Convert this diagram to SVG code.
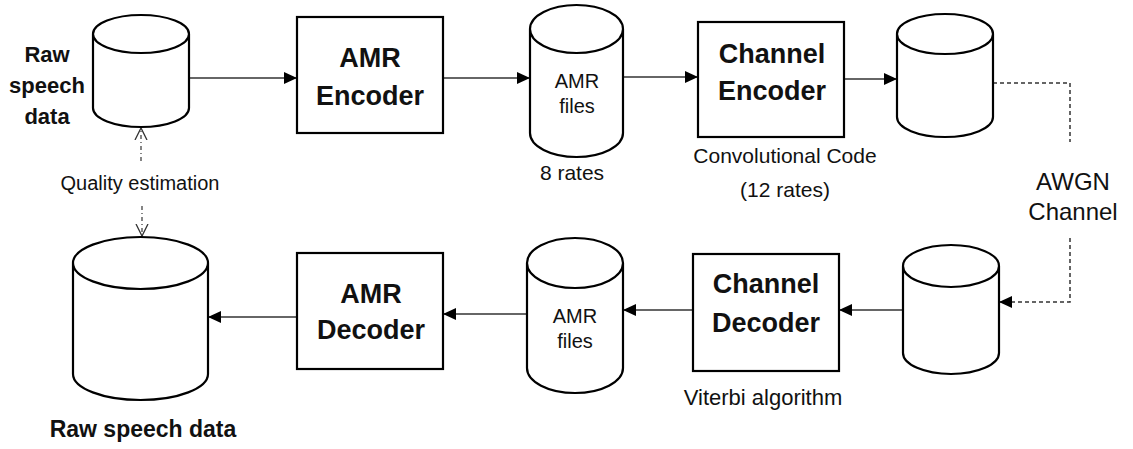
<svg xmlns="http://www.w3.org/2000/svg" width="1133" height="449" viewBox="0 0 1133 449">
<style>
.node{fill:#fff;stroke:#000;stroke-width:2.2}
.conn{fill:none;stroke:#333;stroke-width:1.5}
.dash{fill:none;stroke:#333;stroke-width:1.5;stroke-dasharray:4 3}
.dashdot{fill:none;stroke:#444;stroke-width:1.3;stroke-dasharray:4 3 1 3}
text{font-family:"Liberation Sans",Arial,sans-serif;fill:#111;text-anchor:middle}
.b{font-weight:bold}
</style>
<defs>
<marker id="arr" markerUnits="userSpaceOnUse" markerWidth="14" markerHeight="12" refX="13" refY="6" orient="auto">
<path d="M0,0 L13,6 L0,12 Z" fill="#000"/>
</marker>
<marker id="open" markerUnits="userSpaceOnUse" markerWidth="14" markerHeight="14" refX="12" refY="7" orient="auto">
<path d="M0,1 L12,7 L0,13" fill="none" stroke="#333" stroke-width="1.3"/>
</marker>
</defs>
<rect width="1133" height="449" fill="#fff"/>

<g id="connectors">
<line class="conn" x1="189" y1="78" x2="297" y2="78" marker-end="url(#arr)"/>
<line class="conn" x1="443" y1="78" x2="530" y2="78" marker-end="url(#arr)"/>
<line class="conn" x1="623" y1="77" x2="698" y2="77" marker-end="url(#arr)"/>
<line class="conn" x1="844" y1="79" x2="897" y2="79" marker-end="url(#arr)"/>
<polyline class="dash" points="993,83 1070,83 1070,142"/>
<polyline class="dash" points="1070,238 1070,302 999,302" marker-end="url(#arr)"/>
<line class="conn" x1="903" y1="310" x2="839" y2="310" marker-end="url(#arr)"/>
<line class="conn" x1="693" y1="310" x2="623" y2="310" marker-end="url(#arr)"/>
<line class="conn" x1="527" y1="314" x2="443" y2="314" marker-end="url(#arr)"/>
<line class="conn" x1="297" y1="317" x2="208" y2="317" marker-end="url(#arr)"/>
<line class="dashdot" x1="141" y1="161" x2="141" y2="128" marker-end="url(#open)"/>
<line class="dashdot" x1="142" y1="206" x2="142" y2="236" marker-end="url(#open)"/>
</g>

<g id="raw-in">
<path class="node" d="M93,34 L93,108 A48,19 0 0 0 189,108 L189,34 A48,19 0 0 0 93,34 Z M93,34 A48,19 0 0 0 189,34"/>
<text class="b" font-size="22" x="47" y="62">Raw</text>
<text class="b" font-size="22" x="47" y="93">speech</text>
<text class="b" font-size="22" x="47" y="124">data</text>
</g>

<g id="amr-encoder">
<rect class="node" x="297" y="17" width="146" height="116"/>
<text class="b" font-size="27" x="370" y="67">AMR</text>
<text class="b" font-size="27" x="370" y="105">Encoder</text>
</g>

<g id="amr-files-1">
<path class="node" d="M530,29 L530,133 A46.5,24 0 0 0 623,133 L623,29 A46.5,24 0 0 0 530,29 Z M530,29 A46.5,24 0 0 0 623,29"/>
<text font-size="20" x="577" y="88">AMR</text>
<text font-size="20" x="577" y="113">files</text>
<text font-size="21" x="572" y="180">8 rates</text>
</g>

<g id="channel-encoder">
<rect class="node" x="698" y="22" width="146" height="115"/>
<text class="b" font-size="27" x="772" y="63">Channel</text>
<text class="b" font-size="27" x="772" y="100">Encoder</text>
<text font-size="21" x="785" y="163">Convolutional Code</text>
<text font-size="21" x="785" y="197">(12 rates)</text>
</g>

<g id="coded-1">
<path class="node" d="M897,34 L897,117 A48,20 0 0 0 993,117 L993,34 A48,20 0 0 0 897,34 Z M897,34 A48,20 0 0 0 993,34"/>
</g>

<g id="awgn">
<text font-size="24" x="1073" y="190">AWGN</text>
<text font-size="24" x="1073" y="220">Channel</text>
</g>

<g id="coded-2">
<path class="node" d="M903,266 L903,353 A48,21 0 0 0 999,353 L999,266 A48,21 0 0 0 903,266 Z M903,266 A48,21 0 0 0 999,266"/>
</g>

<g id="channel-decoder">
<rect class="node" x="693" y="254" width="146" height="117"/>
<text class="b" font-size="27" x="766" y="293">Channel</text>
<text class="b" font-size="27" x="766" y="332">Decoder</text>
<text font-size="22" x="763" y="405">Viterbi algorithm</text>
</g>

<g id="amr-files-2">
<path class="node" d="M527,263 L527,368 A48,25 0 0 0 623,368 L623,263 A48,25 0 0 0 527,263 Z M527,263 A48,25 0 0 0 623,263"/>
<text font-size="20" x="575" y="323">AMR</text>
<text font-size="20" x="575" y="348">files</text>
</g>

<g id="amr-decoder">
<rect class="node" x="297" y="253" width="146" height="116"/>
<text class="b" font-size="27" x="371" y="303">AMR</text>
<text class="b" font-size="27" x="371" y="339">Decoder</text>
</g>

<g id="raw-out">
<path class="node" d="M73,263 L73,374 A67.5,26 0 0 0 208,374 L208,263 A67.5,26 0 0 0 73,263 Z M73,263 A67.5,26 0 0 0 208,263"/>
<text class="b" font-size="23" x="143" y="437">Raw speech data</text>
</g>

<g id="quality">
<text font-size="20" x="140" y="190">Quality estimation</text>
</g>
</svg>
